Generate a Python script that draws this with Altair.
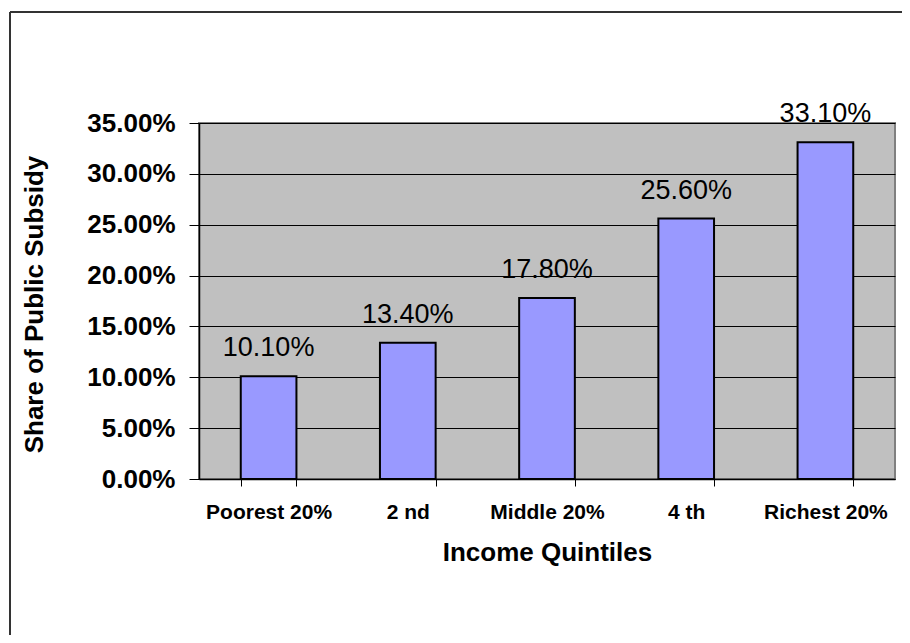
import altair as alt
import pandas as pd

categories = ["Poorest 20%", "2 nd", "Middle 20%", "4 th", "Richest 20%"]
shares = [0.101, 0.134, 0.178, 0.256, 0.331]
y_ticks = [0.0, 0.05, 0.10, 0.15, 0.20, 0.25, 0.30, 0.35]

df = pd.DataFrame({"cat": categories, "share": shares})
FONT = "Liberation Sans"

x_enc = alt.X(
    "cat:N",
    sort=categories,
    scale=alt.Scale(paddingInner=0.6, paddingOuter=0.3),
    axis=alt.Axis(
        title="Income Quintiles",
        titleFont=FONT, titleFontSize=26, titleFontWeight="bold", titleColor="black",
        titleY=81, titleBaseline="alphabetic",
        labelFont=FONT, labelFontSize=21, labelFontWeight="bold", labelColor="black",
        labelAngle=0, labelPadding=15, tickSize=7, tickColor="black",
        domainColor="black", domainWidth=1.5, tickBand="extent", grid=False,
    ),
)
y_enc = alt.Y(
    "share:Q",
    scale=alt.Scale(domain=[0, 0.35], nice=False),
    axis=alt.Axis(
        values=y_ticks, format=".2%",
        title="Share of Public Subsidy",
        titleFont=FONT, titleFontSize=26, titleFontWeight="bold", titleColor="black",
        titleX=-157, titleY=181, titleBaseline="alphabetic",
        labelFont=FONT, labelFontSize=26, labelFontWeight="bold", labelColor="black",
        labelPadding=14, tickSize=10, tickColor="black",
        domainColor="black", domainWidth=1.5,
        grid=True, gridColor="black", gridWidth=1, gridOpacity=1,
    ),
)

bars = alt.Chart(df).mark_bar(color="#9999FF", stroke="black", strokeWidth=2).encode(
    x=x_enc, y=y_enc
)
labels = alt.Chart(df).mark_text(
    font=FONT, fontSize=27, color="black", baseline="alphabetic", dy=-20
).encode(
    x=alt.X("cat:N", sort=categories),
    y=alt.Y("share:Q"),
    text=alt.Text("share:Q", format=".2%"),
)

frame_df = pd.DataFrame({"a": [0]})
frame_top = alt.Chart(frame_df).mark_rule(color="#333333", strokeWidth=2).encode(
    x=alt.value(-189), x2=alt.value(703), y=alt.value(-111)
)
frame_left = alt.Chart(frame_df).mark_rule(color="#333333", strokeWidth=2).encode(
    x=alt.value(-189), y=alt.value(-111), y2=alt.value(512)
)

chart = alt.layer(bars, labels, frame_top, frame_left).properties(
    width=696,
    height=356,
    background="white",
    autosize=alt.AutoSizeParams(type="none"),
    padding={"left": 191, "top": 115, "right": 7, "bottom": 156},
).configure_view(
    fill="#C0C0C0", stroke="#808080", strokeWidth=2
)

chart.save("out.html", embed_options={"renderer": "svg", "actions": False})
